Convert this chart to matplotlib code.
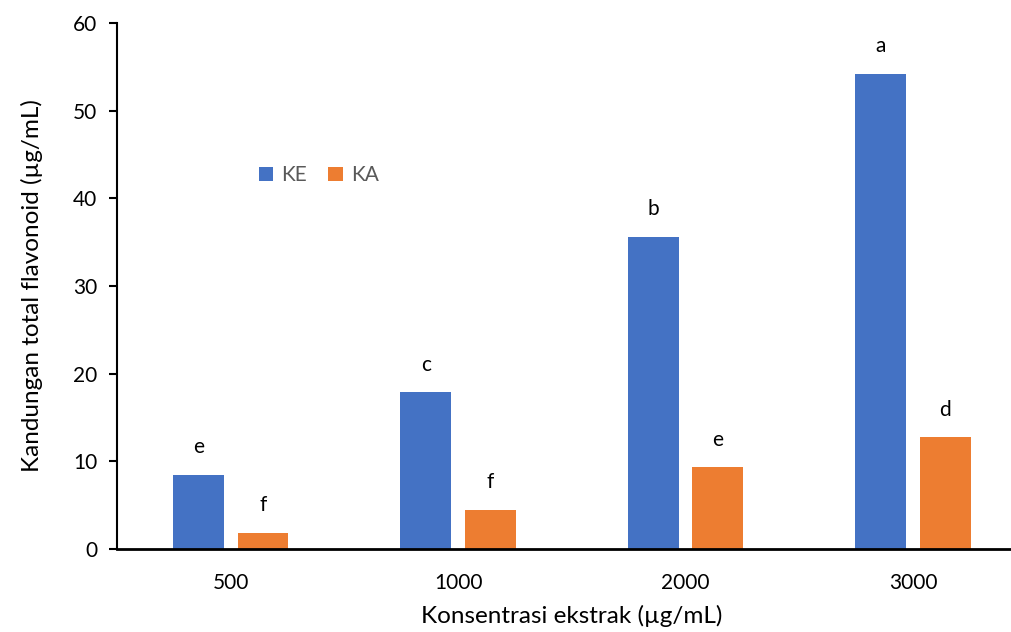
import numpy as np
import matplotlib.pyplot as plt

plt.rcParams['font.family'] = ['Lato', 'DejaVu Sans']

# data
concentrations = ['500', '1000', '2000', '3000']
ke_values = [8.45, 17.9, 35.6, 54.2]
ka_values = [1.85, 4.45, 9.35, 12.75]
ke_letters = ['e', 'c', 'b', 'a']
ka_letters = ['f', 'f', 'e', 'd']

fig = plt.figure(figsize=(10.11, 6.32), dpi=100)
ax = fig.add_axes([0.1157, 0.1313, 0.9, 0.8323])

x = np.arange(len(concentrations))
off = 0.142
w = 0.224
blue = '#4472C4'
orange = '#ED7D31'

ax.bar(x - off, ke_values, w, color=blue, label='KE')
ax.bar(x + off, ka_values, w, color=orange, label='KA')

for i in range(len(x)):
    ax.text(x[i] - off, ke_values[i] + 2.0, ke_letters[i], ha='center', va='bottom', fontsize=15)
    ax.text(x[i] + off, ka_values[i] + 2.0, ka_letters[i], ha='center', va='bottom', fontsize=15)

ax.set_xlim(-0.5, 3.5)
ax.set_ylim(0, 60)
ax.set_yticks(range(0, 61, 10))
ax.set_xticks(x)
ax.set_xticklabels(concentrations)
ax.tick_params(axis='x', length=0, labelsize=15, pad=17)
ax.tick_params(axis='y', length=6, width=1.5, labelsize=15, pad=8)
for s in ['top', 'right']:
    ax.spines[s].set_visible(False)
ax.spines['left'].set_linewidth(1.5)
ax.spines['bottom'].set_linewidth(2)

ax.set_xlabel('Konsentrasi ekstrak (µg/mL)', fontsize=17.5, labelpad=9)
ax.set_ylabel('Kandungan total flavonoid (µg/mL)', fontsize=17.5, labelpad=22)

leg = ax.legend(loc='upper left', bbox_to_anchor=(0.135, 0.765), ncol=2, frameon=False,
                fontsize=15, handlelength=0.7, handleheight=0.7, columnspacing=1.0,
                handletextpad=0.4, labelcolor='#595959')

fig.savefig('out.png', dpi=100)
